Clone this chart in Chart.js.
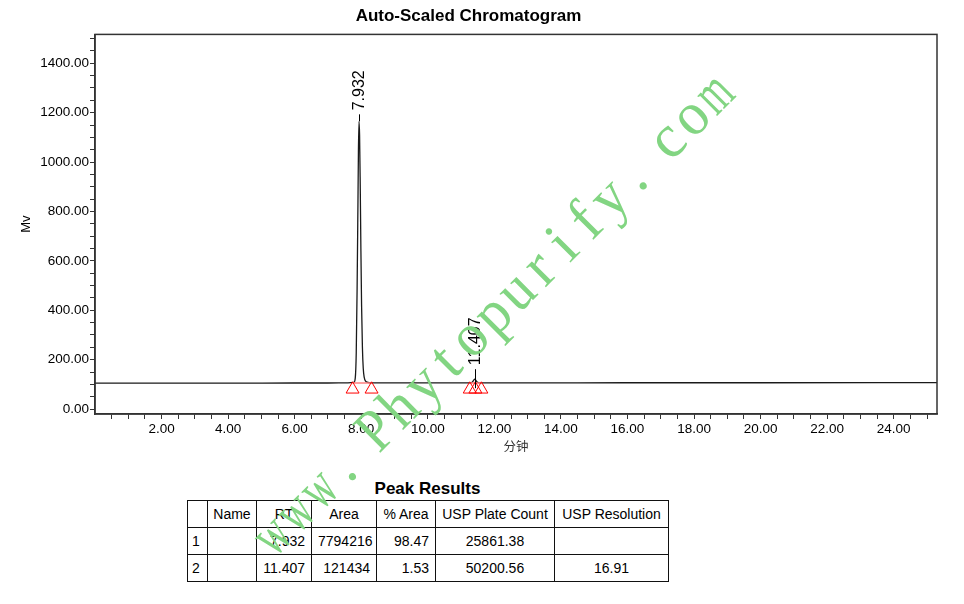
<!DOCTYPE html>
<html>
<head>
<meta charset="utf-8">
<script src="https://cdn.jsdelivr.net/npm/chart.js@4.4.1/dist/chart.umd.min.js"></script>
<style>
  body { margin: 0; background: #fff; }
  #page { position: relative; width: 964px; height: 604px; overflow: hidden; }
  #chromatogram { position: absolute; left: 0; top: 0; z-index: 1; }
  #results { position: absolute; left: 187px; top: 478px; width: 481px; z-index: 0;
             font-family: "Liberation Sans", Arial, sans-serif; color: #000; }
  #results .caption { text-align: center; font-weight: bold; font-size: 17px; line-height: 22px; }
  #results table { border-collapse: collapse; table-layout: fixed; width: 481px; font-size: 14px; }
  #results td { border: 1px solid #111; height: 26px; padding: 0 6px; white-space: nowrap; }
  #results td.head { text-align: center; padding: 0 2px; }
</style>
</head>
<body>
<div id="page">
  <div id="results">
    <div class="caption">Peak Results</div>
    <table id="peakTable"></table>
  </div>
  <canvas id="chromatogram" width="964" height="604"></canvas>
</div>
<script>
// detector trace (minutes, mV)
var timeMin = [0, 2, 4, 6, 7.0, 7.6, 7.78, 7.82, 7.85, 7.875, 7.90, 7.915, 7.932, 7.95, 7.97, 7.99,
               8.01, 8.035, 8.06, 8.09, 8.13, 8.2, 8.3, 9, 10, 11.2, 11.30, 11.34, 11.37, 11.39,
               11.407, 11.43, 11.45, 11.48, 11.52, 11.6, 13, 16, 20, 25.3];
var signalMv = [105, 105, 105, 105.5, 105.5, 106, 108, 125, 230, 480, 820, 1040, 1165, 1110, 900, 640,
                420, 250, 165, 128, 113, 108, 106, 106, 106, 106, 107, 110, 115, 119,
                121, 119, 115, 110, 107, 106, 106, 106.5, 106.5, 107];

// integration start/end markers
var markerTimes = [7.74, 8.31, 11.26, 11.43, 11.61];
var markerLevel = [80, 80, 80, 80, 80];

// peak apex labels
var peakRT = [7.932, 11.407];
var peakHeight = [1165, 121];

// axis ticks
var yLabelled = [0, 200, 400, 600, 800, 1000, 1200, 1400];
var xLabelled = [2, 4, 6, 8, 10, 12, 14, 16, 18, 20, 22, 24];

// Peak Results table
var tableHeader = ['', 'Name', 'RT', 'Area', '% Area', 'USP Plate Count', 'USP Resolution'];
var peakNo = ['1', '2'];
var peakName = ['', ''];
var peakRTText = ['7.932', '11.407'];
var peakArea = ['7794216', '121434'];
var peakPctArea = ['98.47', '1.53'];
var plateCount = ['25861.38', '50200.56'];
var resolution = ['', '16.91'];

var colWidths = [20, 49, 55, 65, 59, 119, 114];
var colAlign = ['left', 'left', 'right', 'right', 'right', 'center', 'center'];

var tbl = document.getElementById('peakTable');
var cg = document.createElement('colgroup');
colWidths.forEach(function (w) {
    var c = document.createElement('col');
    c.style.width = w + 'px';
    cg.appendChild(c);
});
tbl.appendChild(cg);
var rows = [tableHeader];
for (var i = 0; i < peakNo.length; i++) {
    rows.push([peakNo[i], peakName[i], peakRTText[i], peakArea[i], peakPctArea[i], plateCount[i], resolution[i]]);
}
rows.forEach(function (r, ri) {
    var tr = document.createElement('tr');
    r.forEach(function (txt, ci) {
        var td = document.createElement('td');
        td.textContent = txt;
        if (ri === 0) {
            td.className = 'head';
        } else {
            td.style.textAlign = colAlign[ci];
            if (ci === 0) td.style.padding = '0 4px';
        }
        tr.appendChild(td);
    });
    tbl.appendChild(tr);
});

var trace = timeMin.map(function (t, i) { return {x: t, y: signalMv[i]}; });
var markers = markerTimes.map(function (t, i) { return {x: t, y: markerLevel[i]}; });
var dropLines = [
    {x: markerTimes[0], y: signalMv[5]}, {x: markerTimes[1], y: signalMv[5]}, {x: 9.5, y: null},
    {x: markerTimes[2], y: signalMv[25]}, {x: markerTimes[4], y: signalMv[25]}
];

function stepTicks(lo, hi, step) {
    var out = [];
    for (var v = lo; v <= hi + 1e-9; v += step) out.push({value: Math.round(v * 100) / 100});
    return out;
}

var axisFont = {family: '"Liberation Sans", Arial, sans-serif', size: 13.5};

// box around the plot
var plotFrame = {
    id: 'plotFrame',
    afterDatasetsDraw: function (chart) {
        var a = chart.chartArea, ctx = chart.ctx;
        ctx.save();
        ctx.strokeStyle = '#333';
        ctx.lineWidth = 1.5;
        ctx.strokeRect(a.left, a.top, a.right - a.left, a.bottom - a.top);
        ctx.restore();
    }
};

// rotated retention time labels above each apex
var peakLabels = {
    id: 'peakLabels',
    afterDatasetsDraw: function (chart) {
        var ctx = chart.ctx, x = chart.scales.x, y = chart.scales.y;
        var stemUp = [7, 10], stemDown = [0, 9];
        ctx.save();
        ctx.strokeStyle = '#000';
        ctx.fillStyle = '#000';
        ctx.lineWidth = 1;
        ctx.font = '16px "Liberation Sans", Arial, sans-serif';
        peakRT.forEach(function (rt, i) {
            var px = Math.round(x.getPixelForValue(rt)) + 0.5;
            var py = y.getPixelForValue(peakHeight[i]);
            ctx.beginPath();
            ctx.moveTo(px, py + stemDown[i]);
            ctx.lineTo(px, py - stemUp[i]);
            ctx.stroke();
            ctx.save();
            ctx.translate(px, py - stemUp[i] - 4);
            ctx.rotate(-Math.PI / 2);
            ctx.textAlign = 'left';
            ctx.textBaseline = 'middle';
            ctx.fillText(rt.toFixed(3), 0, 0);
            ctx.restore();
        });
        ctx.restore();
    }
};

// green diagonal watermark, fixed pitch like a CJK system font
var watermark = {
    id: 'watermark',
    afterDraw: function (chart) {
        var ctx = chart.ctx;
        var text = 'www. Phytopurify. com';
        var pitch = 32.9;
        ctx.save();
        ctx.font = '61px "Liberation Serif", "Times New Roman", serif';
        ctx.fillStyle = '#82d582';
        ctx.textAlign = 'center';
        ctx.textBaseline = 'alphabetic';
        ctx.translate(273, 560);
        ctx.rotate(-Math.PI / 4);
        var u = 0;
        for (var k = 0; k < text.length; k++) {
            var cell = text[k] === ' ' ? pitch / 2 : pitch;
            var w = ctx.measureText(text[k]).width;
            var sx = Math.min(1, pitch * 0.88 / Math.max(w, 1));
            ctx.save();
            ctx.translate(u + cell / 2, 0);
            ctx.scale(sx, 1);
            ctx.fillText(text[k], 0, 0);
            ctx.restore();
            u += cell;
        }
        ctx.restore();
    }
};

var ctx = document.getElementById('chromatogram').getContext('2d');
var chart = new Chart(ctx, {
    type: 'line',
    data: {
        datasets: [{
            data: trace,
            borderColor: '#1a1a1a',
            borderWidth: 1.3,
            pointRadius: 0,
            cubicInterpolationMode: 'monotone',
            order: 2
        }, {
            data: dropLines,
            borderColor: '#ff8080',
            borderWidth: 1.5,
            pointRadius: 0,
            spanGaps: false,
            order: 1
        }, {
            data: markers,
            showLine: false,
            pointStyle: 'triangle',
            pointRadius: 7.5,
            pointBorderWidth: 1,
            pointBorderColor: '#ff0000',
            pointBackgroundColor: 'rgba(255,255,255,0)',
            order: 0
        }]
    },

    options: {
        responsive: false,
        animation: false,
        layout: {padding: {left: 0, right: 27, top: 0, bottom: 148}},
        plugins: {
            legend: {display: false},
            tooltip: {enabled: false},
            title: {
                display: true,
                text: 'Auto-Scaled Chromatogram',
                color: '#000',
                font: {family: '"Liberation Sans", Arial, sans-serif', size: 17, weight: 'bold'},
                padding: {top: 6, bottom: 8}
            }
        },
        scales: {
            x: {
                type: 'linear',
                min: 0,
                max: 25.3,
                grid: {drawOnChartArea: false, tickLength: 5, tickColor: '#333'},
                border: {color: '#333', width: 1.5},
                afterBuildTicks: function (s) { s.ticks = stepTicks(0.5, 25, 0.5); },
                ticks: {
                    autoSkip: false,
                    maxRotation: 0,
                    padding: 2,
                    color: '#000',
                    font: axisFont,
                    callback: function (v) {
                        return xLabelled.indexOf(v) >= 0 ? v.toFixed(2) : '';
                    }
                },
                title: {
                    display: true,
                    text: '分钟',
                    color: '#333',
                    font: {family: '"Noto Sans CJK SC", sans-serif', size: 12.5},
                    padding: {top: 0, bottom: 2}
                },
                afterFit: function (s) { s.height = 42; }
            },
            y: {
                min: -20,
                max: 1517,
                grid: {drawOnChartArea: false, tickLength: 5, tickColor: '#333'},
                border: {color: '#333', width: 1.5},
                afterBuildTicks: function (s) { s.ticks = stepTicks(0, 1500, 50); },
                ticks: {
                    autoSkip: false,
                    padding: 1,
                    color: '#000',
                    font: axisFont,
                    callback: function (v) {
                        return yLabelled.indexOf(v) >= 0 ? v.toFixed(2) : '';
                    }
                },
                title: {
                    display: true,
                    text: 'Mv',
                    color: '#000',
                    font: {family: '"Liberation Sans", Arial, sans-serif', size: 13},
                    padding: {top: 19, bottom: 0}
                },
                afterFit: function (s) { s.width = 95; }
            }
        }
    },
    plugins: [plotFrame, peakLabels, watermark]
});
</script>
</body>
</html>
